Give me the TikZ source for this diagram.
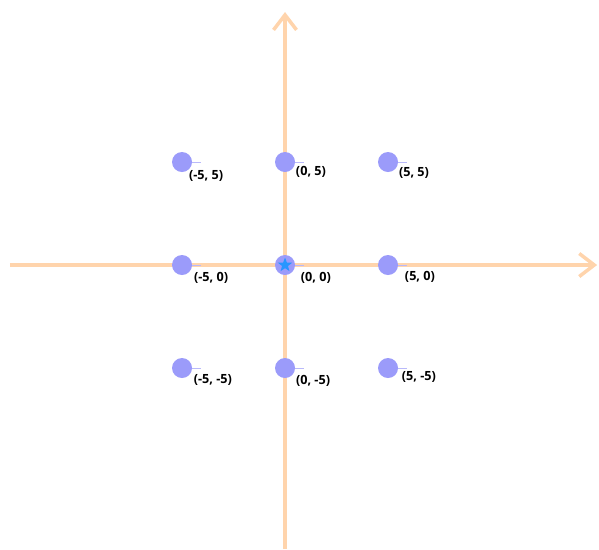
\documentclass[tikz,border=0pt]{standalone}
\usepackage{fontspec}
\setmainfont{Open Sans}
\usetikzlibrary{shapes.geometric, arrows.meta}
\definecolor{axisorange}{RGB}{255, 212, 172}
\definecolor{dotblue}{RGB}{155, 155, 250}
\definecolor{tickblue}{RGB}{185, 185, 250}
\definecolor{starblue}{RGB}{40, 150, 255}
\tikzset{
  axisline/.style = {
    line width=2.2pt,
    draw=axisorange,
    -{Straight Barb[length=3mm, width=4.6mm, line width=2pt]}
  },
  gridpoint/.style = {
    circle,
    fill=dotblue,
    inner sep=0pt,
    minimum size=4mm
  },
  pointtick/.style = {
    draw=tickblue,
    line width=0.5pt
  },
  pointlabel/.style = {
    font=\fontsize{7.2}{8}\selectfont\bfseries,
    text=black,
    inner sep=0pt
  },
  originstar/.style = {
    star, star points=5, star point ratio=2.4,
    fill=starblue, inner sep=0pt, minimum size=3mm
  }
}

\begin{document}
\begin{tikzpicture}[x=0.412cm, y=0.412cm]
  \useasboundingbox (-13.835,-13.786) rectangle (15.24,12.864);

  % Axes
  \coordinate (xstart) at (-13.35,0);
  \coordinate (xend) at (15.15,0);
  \coordinate (ystart) at (0,-13.79);
  \coordinate (yend) at (0,12.28);
  \draw[axisline] (xstart) -- (xend);
  \draw[axisline] (ystart) -- (yend);

  % Points with their labels
  \foreach \px/\py/\dx/\dy/\name in {
      -5/5/1.17/-0.68/a, 0/5/1.26/-0.49/b, 5/5/1.26/-0.53/c,
      -5/0/1.41/-0.63/d, 0/0/1.50/-0.63/e, 5/0/1.55/-0.58/f,
      -5/-5/1.50/-0.58/g, 0/-5/1.36/-0.63/h, 5/-5/1.50/-0.44/i} {
    \coordinate (t\name) at (\px+0.92,\py);
    \draw[pointtick] (\px,\py) -- (t\name);
    \node[gridpoint] (p\name) at (\px,\py) {};
    \node[pointlabel] (l\name) at (\px+\dx,\py+\dy) {(\px, \py)};
  }

  % Origin marker
  \node[originstar] (star) at (pe) {};
\end{tikzpicture}
\end{document}
